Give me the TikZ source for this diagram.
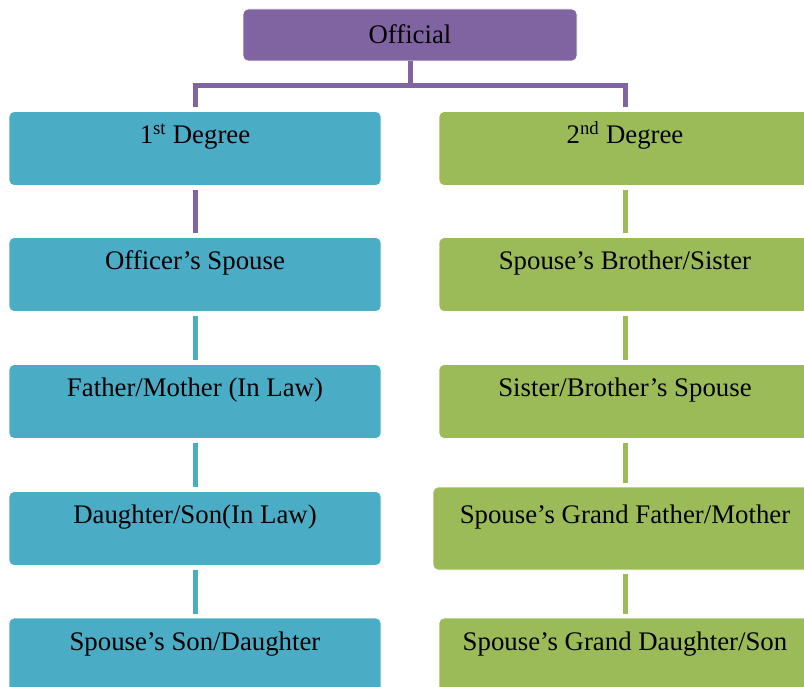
\documentclass[tikz,border=0pt]{standalone}
\usepackage{fontspec}
\setmainfont{Liberation Serif}
\usepackage{tikz}
\usetikzlibrary{calc}

\definecolor{offpurple}{HTML}{8064A2}
\definecolor{degteal}{HTML}{4BACC6}
\definecolor{deggreen}{HTML}{9BBB59}

\tikzset{
  box/.style={rectangle, rounded corners=5pt, draw=white, line width=0.8pt,
    minimum width=372pt, minimum height=74pt, inner sep=0pt,
    font=\fontsize{26.8}{31}\selectfont, text height=18.5pt, text depth=28.5pt},
  topbox/.style={box, fill=offpurple, minimum width=334pt, minimum height=52pt, text height=18pt, text depth=0pt},
  tealbox/.style={box, fill=degteal},
  greenbox/.style={box, fill=deggreen},
  link/.style={line width=5pt, shorten <=4pt, shorten >=4pt},
}

\begin{document}
\begin{tikzpicture}[x=1pt,y=-1pt]
\useasboundingbox (0,0) rectangle (804,687);
\clip (0,0) rectangle (804,687);

\node (O) at (410,35) [topbox] {Official};

\node (L1) at (195,148.5) [tealbox] {1\textsuperscript{st} Degree};
\node (L2) at (195,274.5) [tealbox] {Officer's Spouse};
\node (L3) at (195,401.5) [tealbox] {Father/Mother (In Law)};
\node (L4) at (195,528.5) [tealbox] {Daughter/Son(In Law)};
\node (L5) at (195,655) [tealbox] {Spouse's Son/Daughter};

\node (R1) at (625,148.5) [greenbox] {2\textsuperscript{nd} Degree};
\node (R2) at (625,274.5) [greenbox] {Spouse's Brother/Sister};
\node (R3) at (625,401.5) [greenbox] {Sister/Brother's Spouse};
\node (R4) at (625,528.5) [greenbox, minimum width=384pt, minimum height=83pt] {Spouse's Grand Father/Mother};
\node (R5) at (625,655) [greenbox] {Spouse's Grand Daughter/Son};

% tree from the top box
\coordinate (J) at (410,86);
\draw [line width=5pt, offpurple] (O) -- (J);
\draw [line width=5pt, offpurple] ([yshift=4pt]L1.north) |- (J) -| ([yshift=4pt]R1.north);

\draw [link, offpurple] (L1) -- (L2);
\draw [link, degteal] (L2) -- (L3);
\draw [link, degteal] (L3) -- (L4);
\draw [link, degteal] (L4) -- (L5);

\draw [link, deggreen] (R1) -- (R2);
\draw [link, deggreen] (R2) -- (R3);
\draw [link, deggreen] (R3) -- (R4);
\draw [link, deggreen] (R4) -- (R5);
\end{tikzpicture}
\end{document}
